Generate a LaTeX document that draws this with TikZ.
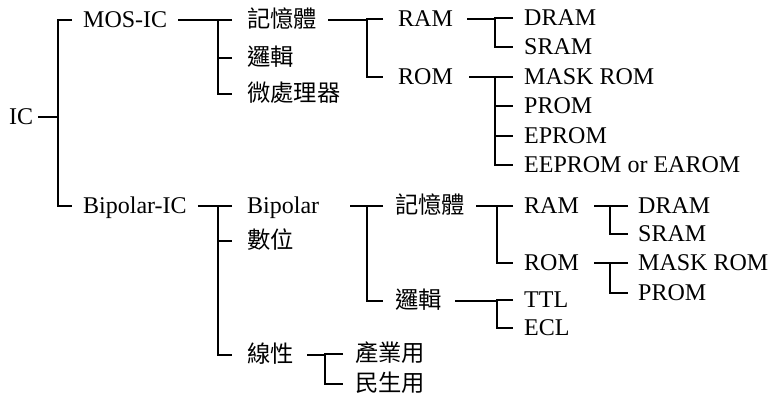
\documentclass[tikz,border=0pt]{standalone}
\usepackage{fontspec}
\setmainfont{Liberation Serif}
\newfontfamily\cjk{Noto Sans CJK TC}
\begin{document}
\begin{tikzpicture}[x=1pt,y=-1pt,
  lbl/.style={anchor=west, inner sep=0pt, text height=15.8pt, text depth=0pt, font=\fontsize{24}{24}\selectfont},
  zh/.style={lbl, font=\fontsize{23.3}{23.3}\selectfont\cjk},
  conn/.style={draw, line width=1.5pt}]
\useasboundingbox (0,0) rectangle (772,403);
% level 0-1
\node[lbl] (ic) at (9,117) {IC};
\node[lbl] (mos) at (83,20) {MOS-IC};
\node[lbl] (bic) at (83,206) {Bipolar-IC};
% MOS branch
\node[zh] (mem1) at (247,20) {記憶體};
\node[zh] (lj1) at (247,58) {邏輯};
\node[zh] (up) at (247,94) {微處理器};
\node[lbl] (ram1) at (398,19) {RAM};
\node[lbl] (rom1) at (398,77) {ROM};
\node[lbl] (dram1) at (524,18) {DRAM};
\node[lbl] (sram1) at (524,47) {SRAM};
\node[lbl] (mrom1) at (524,77) {MASK ROM};
\node[lbl] (prom1) at (524,106) {PROM};
\node[lbl] (eprom1) at (524,136) {EPROM};
\node[lbl] (eeprom) at (524,165) {EEPROM or EAROM};
% Bipolar branch
\node[lbl] (bip) at (247,206) {Bipolar};
\node[zh] (sw) at (247,241) {數位};
\node[zh] (xx) at (247,355) {線性};
\node[zh] (mem2) at (395,206) {記憶體};
\node[zh] (lj2) at (395,301) {邏輯};
\node[zh] (cy) at (355,354) {產業用};
\node[zh] (ms) at (355,384) {民生用};
\node[lbl] (ram2) at (524,206) {RAM};
\node[lbl] (rom2) at (524,263) {ROM};
\node[lbl] (ttl) at (524,300) {TTL};
\node[lbl] (ecl) at (524,328) {ECL};
\node[lbl] (dram2) at (638,206) {DRAM};
\node[lbl] (sram2) at (638,234) {SRAM};
\node[lbl] (mrom2) at (638,263) {MASK ROM};
\node[lbl] (prom2) at (638,293) {PROM};
% bar positions
\coordinate (b1) at (58,0);
\coordinate (b2) at (218,0);
\coordinate (b3) at (367,0);
\coordinate (b4) at (495,0);
\coordinate (b7) at (497,0);
\coordinate (b8) at (610,0);
\coordinate (b10) at (325,0);
% IC
\draw[conn] ([xshift=5pt]ic.east) -- (ic.east -| b1);
\draw[conn] ([xshift=-11pt]mos.west) -- (mos.west -| b1) -- (bic.west -| b1) -- ([xshift=-11pt]bic.west);
% MOS-IC
\draw[conn] ([xshift=11pt]mos.east) -- (mos.east -| b2);
\draw[conn] ([xshift=-15pt]mem1.west) -- (mem1.west -| b2) -- (up.west -| b2) -- ([xshift=-15pt]up.west);
\draw[conn] (lj1.west -| b2) -- ([xshift=-15pt]lj1.west);
% 記憶體 (MOS)
\draw[conn] ([xshift=11pt]mem1.east) -- (mem1.east -| b3);
\draw[conn] ([xshift=-15pt]ram1.west) -- (ram1.west -| b3) -- (rom1.west -| b3) -- ([xshift=-15pt]rom1.west);
% RAM (MOS)
\draw[conn] ([xshift=14pt]ram1.east) -- (ram1.east -| b4);
\draw[conn] ([xshift=-11pt]dram1.west) -- (dram1.west -| b4) -- (sram1.west -| b4) -- ([xshift=-11pt]sram1.west);
% ROM (MOS)
\draw[conn] ([xshift=16pt]rom1.east) -- (rom1.east -| b4);
\draw[conn] ([xshift=-11pt]mrom1.west) -- (mrom1.west -| b4) -- (eeprom.west -| b4) -- ([xshift=-11pt]eeprom.west);
\draw[conn] (prom1.west -| b4) -- ([xshift=-11pt]prom1.west);
\draw[conn] (eprom1.west -| b4) -- ([xshift=-11pt]eprom1.west);
% Bipolar-IC
\draw[conn] ([xshift=11pt]bic.east) -- (bic.east -| b2);
\draw[conn] ([xshift=-15pt]bip.west) -- (bip.west -| b2) -- (xx.west -| b2) -- ([xshift=-15pt]xx.west);
\draw[conn] (sw.west -| b2) -- ([xshift=-15pt]sw.west);
% Bipolar
\draw[conn] ([xshift=31pt]bip.east) -- (bip.east -| b3);
\draw[conn] ([xshift=-12pt]mem2.west) -- (mem2.west -| b3) -- (lj2.west -| b3) -- ([xshift=-12pt]lj2.west);
% 記憶體 (Bipolar)
\draw[conn] ([xshift=11pt]mem2.east) -- (mem2.east -| b7);
\draw[conn] ([xshift=-11pt]ram2.west) -- (ram2.west -| b7) -- (rom2.west -| b7) -- ([xshift=-11pt]rom2.west);
% RAM / ROM (Bipolar)
\draw[conn] ([xshift=15pt]ram2.east) -- (ram2.east -| b8);
\draw[conn] ([xshift=-10pt]dram2.west) -- (dram2.west -| b8) -- (sram2.west -| b8) -- ([xshift=-10pt]sram2.west);
\draw[conn] ([xshift=15pt]rom2.east) -- (rom2.east -| b8);
\draw[conn] ([xshift=-10pt]mrom2.west) -- (mrom2.west -| b8) -- (prom2.west -| b8) -- ([xshift=-10pt]prom2.west);
% 邏輯 (Bipolar)
\draw[conn] ([xshift=13pt]lj2.east) -- (lj2.east -| b7);
\draw[conn] ([xshift=-11pt]ttl.west) -- (ttl.west -| b7) -- (ecl.west -| b7) -- ([xshift=-11pt]ecl.west);
% 線性
\draw[conn] ([xshift=13pt]xx.east) -- (xx.east -| b10);
\draw[conn] ([xshift=-12pt]cy.west) -- (cy.west -| b10) -- (ms.west -| b10) -- ([xshift=-12pt]ms.west);
\end{tikzpicture}
\end{document}
